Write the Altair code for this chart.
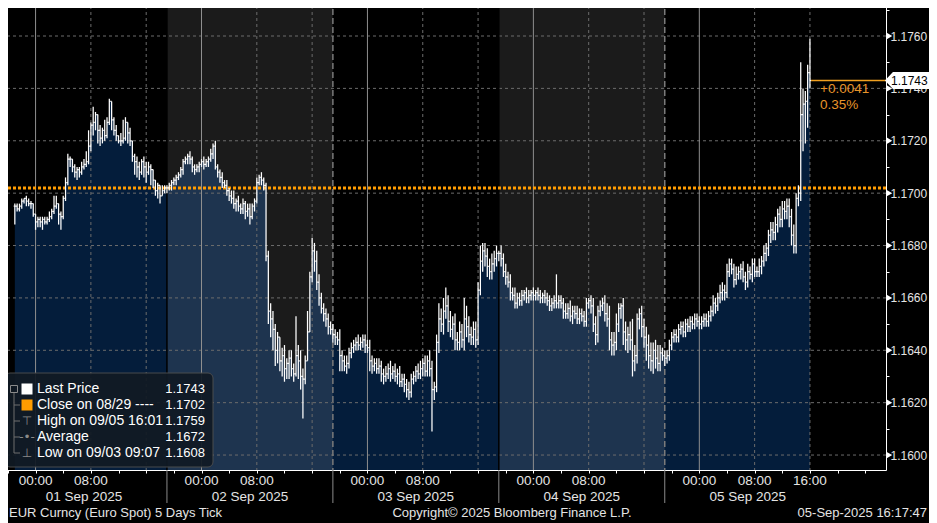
import altair as alt
import pandas as pd

# ---------------- values ----------------
BASE = 1.1600          # prices below are written as pips above this level
PIP = 0.0001
FIRST_BAR_HOUR = 2.0   # hours after the 19:00 start of the 01 Sep session
BAR_HOURS = 20 / 60    # 20-minute bars

CLOSE_D1 = [95, 94, 95, 97, 98, 97, 96, 96, 92, 89,
            90, 89, 90, 89, 90, 91, 93, 95, 96, 92,
            91, 98, 104, 113, 113, 110, 108, 109, 108, 110,
            111, 112, 118, 126, 127, 130, 124, 121, 124, 122,
            127, 135, 128, 124, 122, 120, 120, 121, 127, 123,
            120, 114, 112, 110, 108, 112, 110, 108, 110, 109,
            105, 101, 103, 99, 101, 102]
UP_D1 = [1, 1, 1, 1, 0, 1, 1, 1, 0, 0, 1, 1, 1, 1, 1, 2, 1, 4, 3, 0,
         1, 1, 2, 2, 1, 0, 1, 1, 1, 2, 2, 4, 6, 1, 6, 1, 0, 2, 1, 4,
         2, 1, 0, 1, 2, 0, 3, 7, 2, 0, 2, 0, 1, 2, 2, 1, 2, 2, 2, 1,
         0, 0, 1, 0, 2, 1]
DN_D1 = [7, 1, 1, 1, 1, 2, 1, 2, 1, 3, 2, 2, 3, 1, 1, 1, 1, 1, 1, 4,
         5, 1, 1, 1, 3, 2, 2, 3, 2, 1, 1, 1, 1, 2, 4, 3, 5, 3, 2, 2,
         1, 1, 4, 2, 2, 1, 2, 1, 1, 4, 2, 2, 5, 4, 3, 1, 4, 4, 1, 6,
         3, 2, 3, 3, 0, 1]

CLOSE_D2 = [102, 103, 104, 105, 106, 107, 109, 112, 113, 114,
            113, 110, 109, 110, 111, 112, 111, 112, 113, 115,
            118, 110, 108, 106, 104, 103, 101, 99, 98, 96,
            97, 95, 94, 96, 93, 94, 91, 95, 97, 104,
            106, 105, 103, 76, 55, 52, 48, 40, 45, 36,
            38, 33, 35, 37, 33, 31, 38, 36, 30, 29,
            36, 47, 68, 78, 74, 66, 60, 56, 54, 52,
            49, 48]
UP_D2 = [1, 1, 1, 1, 1, 1, 1, 1, 1, 1, 2, 1, 1, 1, 1, 1, 2, 1, 1, 2,
         1, 2, 1, 1, 2, 1, 2, 1, 2, 3, 1, 2, 1, 2, 1, 2, 2, 1, 1, 2,
         1, 2, 1, 1, 2, 3, 3, 2, 2, 0, 3, 4, 2, 3, 3, 2, 15, 4, 4, 3,
         2, 8, 2, 5, 3, 4, 3, 2, 2, 2, 2, 2]
DN_D2 = [2, 1, 2, 1, 2, 1, 1, 2, 1, 2, 2, 2, 2, 1, 2, 1, 2, 1, 2, 1,
         2, 1, 2, 2, 2, 1, 2, 2, 2, 2, 3, 2, 2, 2, 3, 2, 3, 1, 2, 1,
         1, 2, 2, 2, 5, 7, 8, 6, 5, 4, 6, 5, 4, 6, 3, 3, 1, 7, 5, 15,
         2, 0, 0, 2, 4, 3, 3, 2, 3, 3, 3, 2]

CLOSE_D3 = [46, 45, 44, 38, 36, 34, 35, 39, 41, 42,
            43, 42, 43, 44, 42, 41, 36, 34, 35, 33,
            34, 31, 30, 31, 33, 31, 32, 30, 31, 28,
            29, 27, 25, 24, 29, 30, 32, 31, 33, 35,
            32, 36, 33, 25, 26, 43, 52, 50, 55, 57,
            51, 48, 50, 44, 43, 47, 44, 52, 49, 46,
            45, 48, 44, 63, 74, 78, 76, 72, 70, 73,
            75, 77]
UP_D3 = [2, 2, 2, 4, 2, 2, 3, 2, 2, 2, 2, 3, 2, 2, 2, 2, 3, 2, 2, 2,
         3, 2, 2, 3, 2, 3, 2, 3, 2, 3, 2, 2, 2, 3, 2, 2, 2, 3, 3, 2,
         3, 2, 4, 3, 2, 3, 6, 4, 5, 7, 4, 4, 3, 4, 3, 4, 3, 8, 5, 4,
         3, 3, 3, 3, 6, 3, 3, 3, 3, 4, 3, 3]
DN_D3 = [3, 3, 2, 6, 4, 2, 3, 2, 2, 2, 2, 2, 2, 2, 3, 2, 4, 3, 2, 2,
         2, 3, 3, 2, 2, 3, 2, 2, 3, 2, 2, 3, 3, 3, 2, 2, 2, 2, 2, 3,
         2, 2, 3, 16, 4, 2, 4, 3, 4, 3, 4, 3, 4, 4, 3, 3, 3, 4, 4, 3,
         3, 3, 3, 2, 2, 4, 4, 4, 3, 3, 3, 3]

CLOSE_D4 = [77, 75, 70, 68, 66, 62, 61, 58, 60, 59,
            61, 62, 60, 61, 62, 61, 62, 61, 60, 61,
            60, 59, 57, 58, 59, 58, 59, 58, 55, 54,
            56, 53, 55, 54, 52, 54, 53, 51, 58, 59,
            57, 50, 46, 55, 57, 58, 54, 52, 44, 42,
            43, 50, 56, 57, 47, 44, 46, 44, 36, 38,
            52, 54, 49, 45, 42, 38, 36, 40, 37, 35,
            39, 38]
UP_D4 = [1, 3, 2, 3, 2, 3, 2, 3, 2, 2, 2, 1, 2, 2, 1, 2, 1, 2, 2, 1,
         2, 2, 2, 2, 2, 10, 2, 2, 2, 3, 2, 3, 2, 2, 3, 2, 2, 2, 2, 1,
         2, 3, 3, 2, 2, 2, 3, 4, 5, 3, 4, 4, 2, 1, 3, 4, 3, 5, 8, 4,
         2, 2, 3, 3, 4, 4, 5, 3, 4, 5, 3, 2]
DN_D4 = [3, 3, 2, 3, 2, 3, 2, 2, 2, 2, 2, 2, 2, 2, 2, 2, 2, 2, 2, 2,
         2, 2, 2, 2, 2, 2, 2, 2, 3, 2, 2, 2, 3, 2, 2, 2, 2, 2, 2, 2,
         3, 3, 4, 3, 2, 2, 3, 3, 4, 4, 4, 3, 3, 4, 5, 4, 5, 4, 6, 4,
         3, 4, 4, 4, 6, 5, 4, 5, 4, 3, 3, 2]

CLOSE_D5 = [37, 38, 42, 45, 46, 45, 48, 49, 47, 50,
            49, 51, 50, 52, 51, 50, 51, 52, 51, 53,
            55, 58, 57, 60, 62, 63, 62, 70, 73, 71,
            67, 69, 70, 71, 68, 66, 70, 69, 73, 70,
            70, 72, 74, 77, 79, 84, 86, 85, 88, 92,
            90, 94, 93, 95, 91, 84, 80, 98, 100, 130,
            134, 135, 146, 143]
UP_D5 = [2, 2, 2, 2, 2, 2, 2, 2, 2, 2, 2, 2, 2, 2, 2, 2, 2, 2, 2, 2,
         2, 3, 2, 2, 3, 3, 2, 3, 2, 2, 2, 3, 2, 2, 3, 2, 3, 2, 2, 2,
         2, 3, 2, 3, 2, 2, 3, 3, 3, 2, 3, 3, 3, 3, 3, 3, 4, 2, 3, 20,
         6, 4, 3, 13]
DN_D5 = [3, 2, 2, 2, 2, 2, 2, 2, 2, 2, 2, 2, 2, 2, 2, 2, 2, 2, 2, 2,
         2, 2, 3, 2, 2, 3, 3, 2, 2, 2, 3, 2, 2, 3, 2, 3, 2, 2, 3, 2,
         2, 2, 3, 2, 3, 3, 3, 3, 3, 3, 3, 3, 3, 3, 4, 4, 3, 3, 3, 3,
         14, 15, 10, 3]

DAY_LABELS = ["01 Sep 2025", "02 Sep 2025", "03 Sep 2025", "04 Sep 2025", "05 Sep 2025"]
DAY_SHADED = [False, True, False, True, False]
TIME_LABELS = ["00:00", "08:00", "00:00", "08:00", "00:00", "08:00",
               "00:00", "08:00", "00:00", "08:00", "16:00"]
TIME_LABEL_HOURS = [5, 13, 29, 37, 53, 61, 77, 85, 101, 109, 117]
SOLID_GRID_HOURS = [5, 29, 53, 77, 101]
DASHED_GRID_HOURS = [13, 21, 37, 45, 61, 69, 85, 93, 109, 117]
PRICE_TICKS = [1.160, 1.161, 1.162, 1.163, 1.164, 1.165, 1.166, 1.167, 1.168,
               1.169, 1.170, 1.171, 1.172, 1.173, 1.174, 1.175, 1.176, 1.177]
PRICE_MAJOR = [1.160, 1.162, 1.164, 1.166, 1.168, 1.170, 1.172, 1.174, 1.176]

PREV_CLOSE = 1.1702
LAST_PRICE = 1.1743
LAST_TEXT = "1.1743"
CHANGE_TEXT = ["+0.0041", "0.35%"]

LEGEND_NAMES = ["Last Price", "Close on 08/29 ----", "High on 09/05 16:01",
                "Average", "Low on 09/03 09:07"]
LEGEND_VALUES = ["1.1743", "1.1702", "1.1759", "1.1672", "1.1608"]
LEGEND_GLYPHS = {2: "\u22a4", 3: "-\u2022-", 4: "\u22a5"}

FOOTER_LEFT = "EUR Curncy (Euro Spot) 5 Days  Tick"
FOOTER_MID = "Copyright\u00a9 2025 Bloomberg Finance L.P."
FOOTER_RIGHT = "05-Sep-2025 16:17:47"

# ---------------- styles ----------------
W, H = 885, 470
X_DOMAIN = [0, 128]
Y_DOMAIN = [1.159429, 1.177375]
TXT = "#e4e4e4"
NAVY = "#041d3b"
ORANGE = "#ff9c00"
GRID = "#6c6c6c"
FONT = "Liberation Sans"
TICK_H = 0.16
LEG_ROW0 = 389
LEG_ROW_STEP = 16

# ---------------- tables ----------------
closes = CLOSE_D1 + CLOSE_D2 + CLOSE_D3 + CLOSE_D4 + CLOSE_D5
ups = UP_D1 + UP_D2 + UP_D3 + UP_D4 + UP_D5
dns = DN_D1 + DN_D2 + DN_D3 + DN_D4 + DN_D5
rows = []
prev = closes[0]
for i, (c, u, d) in enumerate(zip(closes, ups, dns)):
    o = prev
    t = FIRST_BAR_HOUR + i * BAR_HOURS
    rows.append(dict(t=t, t_open=t - TICK_H, t_close=t + TICK_H,
                     open=BASE + o * PIP, close=BASE + c * PIP,
                     high=BASE + (max(o, c) + u) * PIP,
                     low=BASE + (min(o, c) - d) * PIP))
    prev = c
bars = pd.DataFrame(rows)

days = pd.DataFrame({"label": DAY_LABELS, "start": [24 * k for k in range(5)],
                     "end": [24 * (k + 1) for k in range(5)],
                     "mid": [24 * k + 12 for k in range(5)], "shaded": DAY_SHADED})
shaded = days[days["shaded"]]
times = pd.DataFrame({"h": TIME_LABEL_HOURS, "label": TIME_LABELS})
majors = pd.DataFrame({"p": PRICE_MAJOR})

XS = alt.Scale(domain=X_DOMAIN, nice=False, zero=False)
YS = alt.Scale(domain=Y_DOMAIN, nice=False, zero=False)

X_AXIS = alt.Axis(values=[1 + 4 * k for k in range(32)], labels=False, grid=False,
                  domainColor="white", tickColor="white", tickSize=3, title=None)
Y_AXIS = alt.Axis(orient="right", values=PRICE_TICKS, grid=False,
                  labelExpr="(round(datum.value*10000) % 20 == 0) ? format(datum.value, '.4f') : ''",
                  domainColor="white", tickColor="white", tickSize=3, labelPadding=1,
                  labelColor=TXT, labelFontSize=12, labelFont=FONT, title=None,
                  labelFlush=False, labelOverlap=False, labelBaseline="middle")


def X(f):
    return alt.X(f, type="quantitative", scale=XS, axis=X_AXIS)


def Y(f):
    return alt.Y(f, type="quantitative", scale=YS, axis=Y_AXIS)


area = alt.Chart(bars).mark_area(color=NAVY, interpolate="step-after").encode(
    x=X("t"), y=Y("close"), y2=alt.datum(Y_DOMAIN[0]))

shade = alt.Chart(shaded).mark_rect(color="white", opacity=0.105).encode(
    x=X("start"), x2="end")

hgrid = alt.Chart(majors).mark_rule(color=GRID, strokeDash=[3, 3]).encode(y=Y("p"))
vsolid = alt.Chart(pd.DataFrame({"h": SOLID_GRID_HOURS})).mark_rule(
    color="#8f8f8f").encode(x=X("h"))
vdash = alt.Chart(pd.DataFrame({"h": DASHED_GRID_HOURS})).mark_rule(
    color=GRID, strokeDash=[3, 3]).encode(x=X("h"))
bound_dash = alt.Chart(days[~days["shaded"]]).mark_rule(
    color="#7a7a7a", strokeDash=[6, 3], strokeWidth=1.5).encode(x=X("start"))
bound_black = alt.Chart(shaded).mark_rule(color="black", strokeWidth=1.5).encode(x=X("start"))

prev_close = alt.Chart(pd.DataFrame({"p": [PREV_CLOSE]})).mark_rule(
    color=ORANGE, strokeWidth=3, strokeDash=[3, 2]).encode(y=Y("p"))

hl = alt.Chart(bars).mark_rule(color="white", strokeWidth=1.25).encode(
    x=X("t"), y=Y("low"), y2="high")
op = alt.Chart(bars).mark_rule(color="white", strokeWidth=1.25).encode(
    x=X("t_open"), x2="t", y=Y("open"))
cl = alt.Chart(bars).mark_rule(color="white", strokeWidth=1.25).encode(
    x=X("t"), x2="t_close", y=Y("close"))

# right axis decorations
tri = alt.Chart(majors).mark_point(shape="triangle-right", filled=True, color="white",
                                   size=40, opacity=1).encode(
    x=alt.value(W + 3.5), y=Y("p"))
last_df = pd.DataFrame({"p": [LAST_PRICE], "t": [bars["t"].iloc[-1] + TICK_H], "end": [X_DOMAIN[1]]})
last_line = alt.Chart(last_df).mark_rule(color="#f0a020", strokeWidth=1.5).encode(
    x=X("t"), x2="end", y=Y("p"))
tag = alt.Chart(last_df).mark_point(
    shape="M-1,0L-0.64,-0.386L1,-0.386L1,0.386L-0.64,0.386Z", filled=True, color="white",
    size=1936, opacity=1).encode(x=alt.value(W + 21), y=Y("p"))
tag_text = alt.Chart(last_df).mark_text(text=LAST_TEXT, color="black", align="left",
                                        baseline="middle", font=FONT, fontSize=12).encode(
    x=alt.value(W + 5), y=Y("p"))
chg_text = alt.Chart(last_df).mark_text(text=CHANGE_TEXT, color="#e8952a", align="left",
                                        baseline="top", font=FONT, fontSize=13.5,
                                        lineHeight=16, dy=1).encode(
    x=alt.value(819), y=Y("p"))

# bottom axis labels
time_text = alt.Chart(times).mark_text(color=TXT, font=FONT, fontSize=13.5,
                                       baseline="middle").encode(
    x=X("h"), y=alt.value(H + 11), text="label:N")
day_text = alt.Chart(days).mark_text(color=TXT, font=FONT, fontSize=13.5,
                                     baseline="middle").encode(
    x=X("mid"), y=alt.value(H + 27), text="label:N")
day_sep = alt.Chart(days[days["start"] > 0]).mark_rule(color="#8a8a8a").encode(
    x=X("start"), y=alt.value(H), y2=alt.value(H + 33))

one = pd.DataFrame({"a": [0]})
foot_l = alt.Chart(one).mark_text(text=FOOTER_LEFT, color=TXT, font=FONT, fontSize=13,
                                  align="left", baseline="middle").encode(
    x=alt.value(8), y=alt.value(H + 43))
foot_m = alt.Chart(one).mark_text(text=FOOTER_MID, color=TXT, font=FONT, fontSize=13,
                                  align="center", baseline="middle").encode(
    x=alt.value(511), y=alt.value(H + 43))
foot_r = alt.Chart(one).mark_text(text=FOOTER_RIGHT, color=TXT, font=FONT, fontSize=13,
                                  align="right", baseline="middle").encode(
    x=alt.value(926), y=alt.value(H + 43))

# legend box
leg_box = alt.Chart(one).mark_rect(fill="#111a24", stroke="#4e4e4e", cornerRadius=5,
                                   opacity=0.93, strokeWidth=1).encode(
    x=alt.value(4), x2=alt.value(212), y=alt.value(373), y2=alt.value(467))
leg_names = alt.Chart(one).mark_text(text=LEGEND_NAMES, color="white", font=FONT,
                                     fontSize=14, lineHeight=LEG_ROW_STEP, align="left",
                                     baseline="middle").encode(
    x=alt.value(36), y=alt.value(LEG_ROW0))
leg_vals = alt.Chart(one).mark_text(text=LEGEND_VALUES, color="white", font=FONT,
                                    fontSize=13, lineHeight=LEG_ROW_STEP, align="right",
                                    baseline="middle").encode(
    x=alt.value(204), y=alt.value(LEG_ROW0))
leg_glyphs = [
    alt.Chart(one).mark_text(text=g, color="#8a8a8a", font="DejaVu Sans", fontSize=12,
                             align="center", baseline="middle").encode(
        x=alt.value(26), y=alt.value(LEG_ROW0 + k * LEG_ROW_STEP))
    for k, g in LEGEND_GLYPHS.items()
]
leg_sq1 = alt.Chart(one).mark_point(shape="square", filled=True, color="white", size=121,
                                    opacity=1).encode(x=alt.value(26), y=alt.value(LEG_ROW0))
leg_sq2 = alt.Chart(one).mark_point(shape="square", filled=True, color=ORANGE, size=121,
                                    opacity=1).encode(x=alt.value(26),
                                                      y=alt.value(LEG_ROW0 + LEG_ROW_STEP))
leg_box_icon = alt.Chart(one).mark_point(shape="square", filled=False, color="#8a8a8a",
                                         size=49, opacity=1, strokeWidth=1).encode(
    x=alt.value(13), y=alt.value(LEG_ROW0))
leg_tree = alt.Chart(one).mark_rule(color="#6e6e6e").encode(
    x=alt.value(13), y=alt.value(LEG_ROW0 + 4), y2=alt.value(LEG_ROW0 + 4 * LEG_ROW_STEP))
leg_branches = [
    alt.Chart(one).mark_rule(color="#6e6e6e").encode(
        x=alt.value(13), x2=alt.value(19), y=alt.value(LEG_ROW0 + k * LEG_ROW_STEP))
    for k in range(1, 5)
]

chart = alt.layer(
    area, shade, hgrid, vsolid, vdash, bound_dash, bound_black, prev_close,
    hl, op, cl, last_line, tri, tag, tag_text, chg_text,
    time_text, day_text, day_sep, foot_l, foot_m, foot_r,
    leg_box, leg_names, leg_vals, *leg_glyphs, leg_sq1, leg_sq2, leg_box_icon,
    leg_tree, *leg_branches
).properties(
    width=W, height=H,
    autosize=alt.AutoSizeParams(type="none"),
    padding={"left": -7, "top": -8, "right": 43, "bottom": 53},
).configure(background="black", font=FONT).configure_view(stroke=None, fill="black")

chart.save("out.html", embed_options={"renderer": "svg", "actions": False})
